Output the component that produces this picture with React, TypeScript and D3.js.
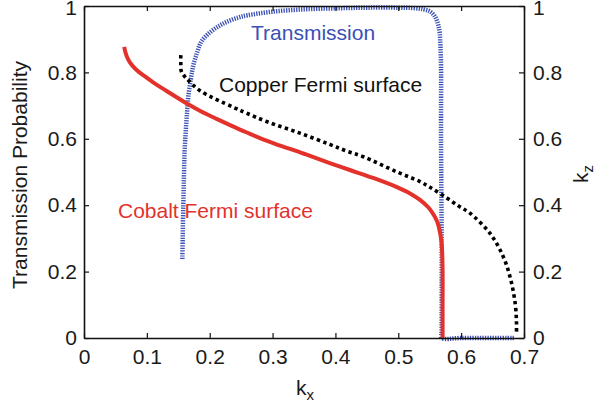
import React, { useEffect, useRef } from "react";
import * as d3 from "d3";

const xTicks = [0, 0.1, 0.2, 0.3, 0.4, 0.5, 0.6, 0.7];
const yTicks = [0, 0.2, 0.4, 0.6, 0.8, 1];

// Cobalt Fermi surface (red solid)
const cobalt: [number, number][] = [
  [0.064, 0.877], [0.066, 0.86], [0.069, 0.844], [0.073, 0.83], [0.078, 0.818],
  [0.085, 0.805], [0.094, 0.792], [0.11, 0.77], [0.1315, 0.744], [0.163, 0.707],
  [0.185, 0.684], [0.211, 0.66], [0.235, 0.639], [0.259, 0.619], [0.28, 0.602],
  [0.304, 0.585], [0.35, 0.555], [0.391, 0.527], [0.423, 0.506], [0.46, 0.482],
  [0.497, 0.455], [0.52, 0.434], [0.5345, 0.416], [0.548, 0.393], [0.556, 0.372],
  [0.562, 0.35], [0.565, 0.33], [0.568, 0.3], [0.5695, 0.27], [0.5705, 0.2],
  [0.5705, 0.1], [0.5705, 0],
];

// Copper Fermi surface (black dotted)
const copper: [number, number][] = [
  [0.154, 0.852], [0.154, 0.83], [0.155, 0.802], [0.163, 0.782], [0.1845, 0.745],
  [0.2375, 0.695], [0.259, 0.677], [0.2905, 0.652], [0.3436, 0.617], [0.391, 0.583],
  [0.418, 0.563], [0.4443, 0.546], [0.497, 0.501], [0.5345, 0.471], [0.5504, 0.454],
  [0.574, 0.426], [0.5955, 0.398], [0.614, 0.376], [0.646, 0.315], [0.667, 0.245],
  [0.679, 0.175], [0.686, 0.104], [0.688, 0.05], [0.688, 0.01],
];

// Transmission (blue dashed)
const transmission: [number, number][] = [
  [0.1565, 0.238], [0.157, 0.3], [0.158, 0.4], [0.159, 0.486], [0.16, 0.56],
  [0.162, 0.627], [0.164, 0.68], [0.166, 0.727], [0.17, 0.78], [0.174, 0.822],
  [0.18, 0.86], [0.1865, 0.892], [0.2, 0.92], [0.215, 0.94], [0.227, 0.952],
  [0.245, 0.965], [0.26, 0.972], [0.3, 0.983], [0.35, 0.99], [0.4, 0.993],
  [0.45, 0.995], [0.5, 0.995], [0.523, 0.994], [0.54, 0.99], [0.55, 0.984],
  [0.557, 0.972], [0.561, 0.958], [0.564, 0.94], [0.566, 0.918], [0.567, 0.88],
  [0.568, 0.818], [0.568, 0.6], [0.569, 0.3], [0.569, 0.02], [0.569, 0],
  [0.6, 0], [0.685, 0],
];

const FONT = "'Liberation Sans', Arial, Helvetica, sans-serif";
const FS = "21px";

const App: React.FC = () => {
  const ref = useRef<SVGSVGElement>(null);

  useEffect(() => {
    if (!ref.current) return;
    const svg = d3.select(ref.current);
    svg.selectAll("*").remove();

    const left = 84, right = 524, top = 6, bottom = 338;

    const x = d3.scaleLinear().domain([0, 0.7]).range([left, right]);
    const y = d3.scaleLinear().domain([0, 1]).range([bottom, top]);
    const fmt = d3.format("~g");

    const styleAxis = (g: d3.Selection<SVGGElement, unknown, null, undefined>) => {
      g.select(".domain").attr("stroke", "#111").attr("stroke-width", 1.6);
      g.selectAll(".tick line").attr("stroke", "#111").attr("stroke-width", 1.2);
      g.selectAll(".tick text")
        .attr("fill", "#1a1a1a")
        .style("font-family", FONT)
        .style("font-size", FS);
    };

    const line = d3
      .line<[number, number]>()
      .x((d) => x(d[0]))
      .y((d) => y(d[1]))
      .curve(d3.curveCatmullRom.alpha(0.5));

    svg.append("path")
      .attr("d", line(transmission) || "")
      .attr("fill", "none")
      .attr("stroke", "#3a50b5")
      .attr("stroke-width", 4.5)
      .attr("stroke-dasharray", "1.3 1.2");

    svg.append("path")
      .attr("d", line(cobalt) || "")
      .attr("fill", "none")
      .attr("stroke", "#e3322b")
      .attr("stroke-width", 4);

    svg.append("path")
      .attr("d", line(copper) || "")
      .attr("fill", "none")
      .attr("stroke", "#000")
      .attr("stroke-width", 3.6)
      .attr("stroke-dasharray", "3.4 3.4");

    // axes, ticks pointing inward, full box
    svg.append("g")
      .attr("transform", `translate(0,${bottom})`)
      .call(d3.axisBottom(x).tickValues(xTicks).tickFormat((d) => fmt(+d))
        .tickSizeInner(-5).tickSizeOuter(0).tickPadding(11))
      .call(styleAxis);

    svg.append("g")
      .attr("transform", `translate(0,${top})`)
      .call(d3.axisTop(x).tickValues(xTicks).tickSizeInner(-5).tickSizeOuter(0).tickFormat(() => ""))
      .call(styleAxis);

    const yLeft = svg.append("g")
      .attr("transform", `translate(${left},0)`)
      .call(d3.axisLeft(y).tickValues(yTicks).tickFormat((d) => fmt(+d))
        .tickSizeInner(-5).tickSizeOuter(0).tickPadding(7))
      .call(styleAxis);

    const yRight = svg.append("g")
      .attr("transform", `translate(${right},0)`)
      .call(d3.axisRight(y).tickValues(yTicks).tickFormat((d) => fmt(+d))
        .tickSizeInner(-5).tickSizeOuter(0).tickPadding(9))
      .call(styleAxis);

    // keep the top "1" inside the page
    [yLeft, yRight].forEach((g) =>
      g.selectAll<SVGTextElement, number>(".tick text")
        .filter((d) => d === 1)
        .attr("dy", "0.42em")
    );

    const label = (tx: number, ty: number, text: string, color: string) =>
      svg.append("text")
        .attr("x", tx)
        .attr("y", ty)
        .attr("fill", color)
        .style("font-family", FONT)
        .style("font-size", FS)
        .text(text);

    label(251, 40, "Transmission", "#3a50b5");
    label(219, 92, "Copper Fermi surface", "#111");
    label(118, 218, "Cobalt Fermi surface", "#e3322b");

    svg.append("text")
      .attr("transform", "translate(27,175) rotate(-90)")
      .attr("text-anchor", "middle")
      .attr("fill", "#1a1a1a")
      .style("font-family", FONT)
      .style("font-size", FS)
      .text("Transmission Probability");

    const kx = svg.append("text")
      .attr("x", 296)
      .attr("y", 395)
      .attr("fill", "#1a1a1a")
      .style("font-family", FONT)
      .style("font-size", FS);
    kx.append("tspan").text("k");
    kx.append("tspan").attr("dy", 5).style("font-size", "15px").text("x");

    const kz = svg.append("text")
      .attr("transform", "translate(588,183) rotate(-90)")
      .attr("fill", "#1a1a1a")
      .style("font-family", FONT)
      .style("font-size", FS);
    kz.append("tspan").text("k");
    kz.append("tspan").attr("dy", 5).style("font-size", "15px").text("z");
  }, []);

  return (
    <svg
      ref={ref}
      width={598}
      height={408}
      style={{ position: "absolute", left: 0, top: 0, background: "#fff" }}
    />
  );
};

export default App;
